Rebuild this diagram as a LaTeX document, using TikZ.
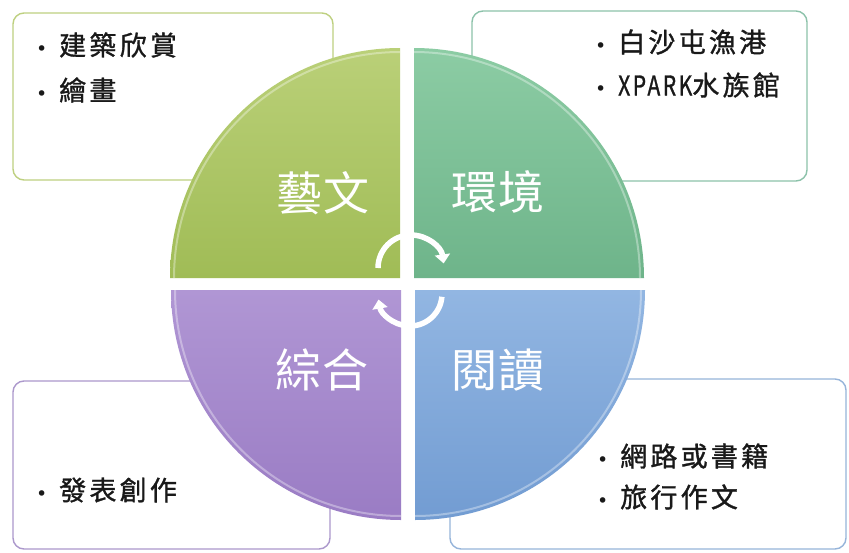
\documentclass[tikz,border=0pt]{standalone}
\usepackage{fontspec}
\usetikzlibrary{arrows.meta}
\newfontfamily\cjk[LetterSpace=12,FakeBold=1.2]{Noto Sans CJK TC}
\newfontfamily\cjkbig[LetterSpace=4]{Noto Sans CJK TC}
\newfontfamily\bulfont{DejaVu Sans}
\definecolor{bxA}{RGB}{190,208,128}
\definecolor{bxB}{RGB}{140,194,170}
\definecolor{bxC}{RGB}{172,152,204}
\definecolor{bxD}{RGB}{150,180,218}
\definecolor{qAt}{RGB}{186,208,120}
\definecolor{qAb}{RGB}{160,188,86}
\definecolor{qBt}{RGB}{140,204,164}
\definecolor{qBb}{RGB}{110,180,138}
\definecolor{qCt}{RGB}{176,150,212}
\definecolor{qCb}{RGB}{154,124,196}
\definecolor{qDt}{RGB}{146,182,226}
\definecolor{qDb}{RGB}{114,156,210}
\definecolor{txt}{RGB}{25,25,25}
\newcommand{\bul}{\makebox[23pt][l]{\bulfont\fontsize{19}{19}\selectfont •}}
\begin{document}
\begin{tikzpicture}[x=1pt,y=-1pt,
  infobox/.style={draw, line width=1.4pt, rounded corners=11pt, fill=white, inner sep=0pt},
  item/.style={anchor=west, inner sep=0pt, text=txt, font=\cjk\fontsize{27}{27}\selectfont},
  qlabel/.style={text=white, inner sep=0pt, font=\cjkbig\fontsize{46}{46}\selectfont},
  cyc/.style={white, line width=5.5pt, -{Triangle[width=15pt,length=9pt]}}]
\useasboundingbox (0,0) rectangle (849,552);
\fill[white] (0,0) rectangle (849,552);
% boxes
\node[infobox, draw=bxA, minimum width=320pt, minimum height=167pt] (boxTL) at (173,96.5) {};
\node[infobox, draw=bxB, minimum width=335pt, minimum height=170pt] (boxTR) at (639.5,96) {};
\node[infobox, draw=bxC, minimum width=317pt, minimum height=168pt] (boxBL) at (171.5,465) {};
\node[infobox, draw=bxD, minimum width=396pt, minimum height=170pt] (boxBR) at (648,464) {};
% quadrants
\shade[top color=qAt, bottom color=qAb] (400,278) -- ++(-230,0) arc[start angle=180,end angle=270,radius=230] -- cycle;
\shade[top color=qBt, bottom color=qBb] (414,278) -- ++(0,-230) arc[start angle=270,end angle=360,radius=230] -- cycle;
\shade[top color=qCt, bottom color=qCb] (401,290) -- ++(0,230) arc[start angle=90,end angle=180,radius=230] -- cycle;
\shade[top color=qDt, bottom color=qDb] (415,290) -- ++(230,0) arc[start angle=0,end angle=90,radius=230] -- cycle;
% rim highlights
\draw[white, opacity=0.35, line width=2pt] (400,278) ++(-226,0) arc[start angle=180,end angle=270,radius=226];
\draw[white, opacity=0.35, line width=2pt] (414,278) ++(0,-226) arc[start angle=270,end angle=360,radius=226];
\draw[white, opacity=0.35, line width=2pt] (401,290) ++(0,226) arc[start angle=90,end angle=180,radius=226];
\draw[white, opacity=0.35, line width=2pt] (415,290) ++(226,0) arc[start angle=0,end angle=90,radius=226];
% quadrant labels
\node[qlabel] (qA) at (323,193) {藝文};
\node[qlabel] (qB) at (498,192) {環境};
\node[qlabel] (qC) at (322,370) {綜合};
\node[qlabel] (qD) at (498,370) {閱讀};
% cycle arrows
\draw[cyc] (411,268) ++(180:33) arc[start angle=180,end angle=352,radius=33];
\draw[cyc] (410,294) ++(5:32) arc[start angle=5,end angle=170,radius=32];
% items
\node[item] (a1) at (36,45) {\bul 建築欣賞};
\node[item] (a2) at (36,90) {\bul 繪畫};
\node[item] (b1) at (595,42) {\bul 白沙屯漁港};
\node[item] (b2) at (595,85) {\bul \scalebox{0.78}[1]{XPARK}水族館};
\node[item] (c1) at (36,490) {\bul 發表創作};
\node[item] (d1) at (597,456) {\bul 網路或書籍};
\node[item] (d2) at (597,497) {\bul 旅行作文};
\end{tikzpicture}
\end{document}
